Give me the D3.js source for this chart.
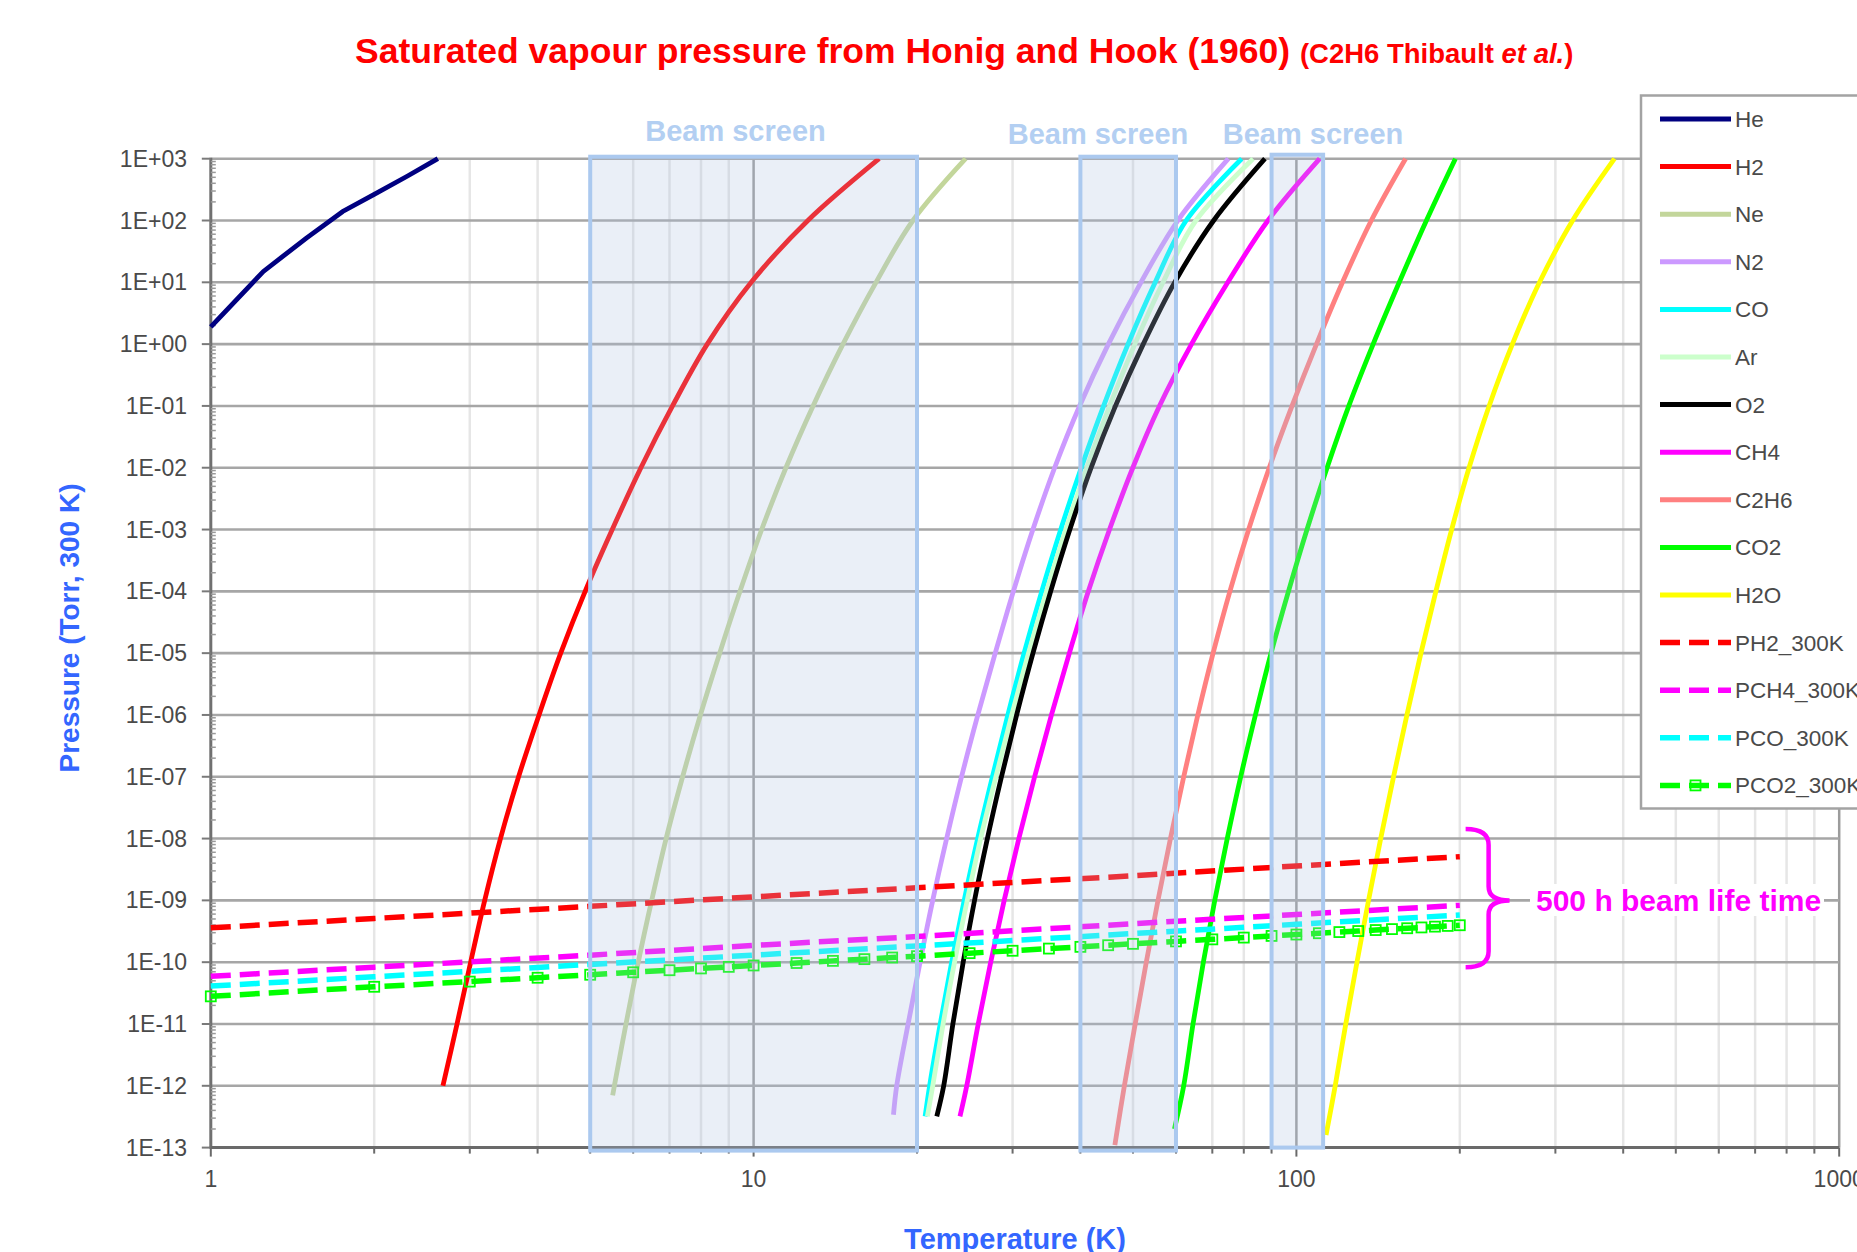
<!DOCTYPE html>
<html><head><meta charset="utf-8">
<script src="https://cdn.jsdelivr.net/npm/d3@7"></script>
<style>body{margin:0;background:#fff;} svg{display:block;font-family:"Liberation Sans",Arial,sans-serif;}</style>
</head><body>
<svg id="c" width="1857" height="1252"></svg>
<script>
// ---------------- DATA ----------------
const xTickValues = [1, 10, 100, 1000];
const xTickLabels = ["1", "10", "100", "1000"];
const yTickValues = [1e3,1e2,1e1,1e0,1e-1,1e-2,1e-3,1e-4,1e-5,1e-6,1e-7,1e-8,1e-9,1e-10,1e-11,1e-12,1e-13];
const yTickLabels = ["1E+03","1E+02","1E+01","1E+00","1E-01","1E-02","1E-03","1E-04","1E-05","1E-06","1E-07","1E-08","1E-09","1E-10","1E-11","1E-12","1E-13"];

const heT = [1, 1.25, 1.5, 1.75, 2.0, 2.3, 2.62];
const heP = [1.9, 15, 52, 140, 265, 520, 1000];

const h2T = [2.677, 2.842, 3.011, 3.196, 3.417, 3.69, 4.024, 4.412, 4.894, 5.49, 6.2, 7.09, 8.215, 9.9, 12.59, 17.03];
const h2P = [1e-12,1e-11,1e-10,1e-9,1e-8,1e-7,1e-6,1e-5,1e-4,1e-3,1e-2,1e-1,1,10,100,1000];

const neT = [5.50, 5.54, 5.82, 6.13, 6.49, 6.90, 7.40, 7.98, 8.66, 9.44, 10.35, 11.47, 12.87, 14.61, 16.81, 19.66, 24.58];
const neP = [7e-13,1e-12,1e-11,1e-10,1e-9,1e-8,1e-7,1e-6,1e-5,1e-4,1e-3,1e-2,1e-1,1,10,100,1000];

const n2T = [18.1, 18.35, 19.26, 20.26, 21.38, 22.68, 24.16, 25.89, 27.87, 30.1, 32.7, 35.86, 39.86, 45.04, 51.72, 60.47, 74.93];
const n2P = [3.4e-13,1e-12,1e-11,1e-10,1e-9,1e-8,1e-7,1e-6,1e-5,1e-4,1e-3,1e-2,1e-1,1,10,100,1000];

const coT = [20.7, 21.1, 22.07, 23.17, 24.43, 25.87, 27.54, 29.4, 31.5, 33.95, 36.8, 40.15, 44.14, 48.96, 54.94, 62.65, 79.3];
const coP = [3.2e-13,1e-12,1e-11,1e-10,1e-9,1e-8,1e-7,1e-6,1e-5,1e-4,1e-3,1e-2,1e-1,1,10,100,1000];

const arT = [20.9, 21.38, 22.34, 23.45, 24.75, 26.2, 27.95, 29.9, 32.1, 34.65, 37.6, 41.1, 45.3, 50.4, 56.8, 65.3, 83.2];
const arP = [3.2e-13,1e-12,1e-11,1e-10,1e-9,1e-8,1e-7,1e-6,1e-5,1e-4,1e-3,1e-2,1e-1,1,10,100,1000];

const o2T = [21.75, 22.4, 23.29, 24.33, 25.53, 26.96, 28.62, 30.52, 32.71, 35.26, 38.25, 41.86, 46.42, 52.22, 59.66, 70.4, 87.5];
const o2P = [3.2e-13,1e-12,1e-11,1e-10,1e-9,1e-8,1e-7,1e-6,1e-5,1e-4,1e-3,1e-2,1e-1,1,10,100,1000];

const ch4T = [24.0, 24.7, 25.93, 27.34, 28.95, 30.81, 32.94, 35.38, 38.17, 41.37, 45.26, 49.96, 55.94, 64.09, 74.76, 88.64, 110.4];
const ch4P = [3.2e-13,1e-12,1e-11,1e-10,1e-9,1e-8,1e-7,1e-6,1e-5,1e-4,1e-3,1e-2,1e-1,1,10,100,1000];

const c2h6T = [46.3, 48.2, 50.47, 52.9, 55.59, 58.61, 62.0, 65.82, 70.23, 75.42, 81.66, 89.13, 98.17, 108.9, 121.6, 137.4, 158.9];
const c2h6P = [1.1e-13,1e-12,1e-11,1e-10,1e-9,1e-8,1e-7,1e-6,1e-5,1e-4,1e-3,1e-2,1e-1,1,10,100,1000];

const co2T = [59.6, 62.0, 64.5, 67.39, 70.73, 74.58, 78.96, 84.04, 89.81, 96.69, 104.6, 113.9, 124.9, 138.5, 154.7, 173.6, 196.3];
const co2P = [2e-13,1e-12,1e-11,1e-10,1e-9,1e-8,1e-7,1e-6,1e-5,1e-4,1e-3,1e-2,1e-1,1,10,100,1000];

const h2oT = [113.4, 117.9, 123.3, 129.3, 135.8, 143.0, 151.0, 159.8, 169.6, 180.7, 193.2, 208.0, 226.5, 250.0, 280.5, 322.8, 385.5];
const h2oP = [1.6e-13,1e-12,1e-11,1e-10,1e-9,1e-8,1e-7,1e-6,1e-5,1e-4,1e-3,1e-2,1e-1,1,10,100,1000];

// 300 K equivalent pressures for 500 h beam life time
const dashT = [1, 2, 5, 10, 20, 50, 100, 200];
const ph2P  = [3.6e-10, 5.1e-10, 8.0e-10, 1.14e-9, 1.6e-9, 2.5e-9, 3.6e-9, 5.1e-9];
const pch4P = [5.9e-11, 8.3e-11, 1.3e-10, 1.87e-10, 2.6e-10, 4.2e-10, 5.9e-10, 8.3e-10];
const pcoP  = [4.1e-11, 5.8e-11, 9.2e-11, 1.3e-10, 1.83e-10, 2.9e-10, 4.1e-10, 5.8e-10];
const pco2T = [1,2,3,4,5,6,7,8,9,10,12,14,16,18,20,25,30,35,40,45,50,60,70,80,90,100,110,120,130,140,150,160,170,180,190,200];
const pco2P = [2.8e-11,4.0e-11,4.85e-11,5.6e-11,6.26e-11,6.86e-11,7.41e-11,7.92e-11,8.4e-11,8.85e-11,9.7e-11,1.05e-10,1.12e-10,1.19e-10,1.25e-10,1.4e-10,1.53e-10,1.66e-10,1.77e-10,1.88e-10,1.98e-10,2.17e-10,2.34e-10,2.5e-10,2.66e-10,2.8e-10,2.94e-10,3.07e-10,3.19e-10,3.31e-10,3.43e-10,3.54e-10,3.65e-10,3.76e-10,3.86e-10,3.96e-10];

// beam screen temperature bands
const beamLoT = [5, 40, 90];
const beamHiT = [20, 60, 112];
const beamLabelT = [9.26, 43.1, 107.3];
const beamLabel = "Beam screen";

// brace annotation (T and P extents)
const braceT = [205, 226, 247];
const braceP = [1.43e-8, 1.0e-9, 8.3e-11];
const braceLabel = "500 h beam life time";

const seriesNames = ["He","H2","Ne","N2","CO","Ar","O2","CH4","C2H6","CO2","H2O","PH2_300K","PCH4_300K","PCO_300K","PCO2_300K"];
const seriesColors = ["#000080","#ff0000","#c3d69b","#cc99ff","#00ffff","#ccffcc","#000000","#ff00ff","#ff8080","#00ff00","#ffff00","#ff0000","#ff00ff","#00ffff","#00ff00"];
const seriesT = [heT,h2T,neT,n2T,coT,arT,o2T,ch4T,c2h6T,co2T,h2oT,dashT,dashT,dashT,pco2T];
const seriesP = [heP,h2P,neP,n2P,coP,arP,o2P,ch4P,c2h6P,co2P,h2oP,ph2P,pch4P,pcoP,pco2P];

// ---------------- DRAWING ----------------
const W = 1857, H = 1252;
const x = d3.scaleLog().domain([1, 1000]).range([210.8, 1839.2]);
const y = d3.scaleLog().domain([1e-13, 1e3]).range([1147.6, 158.7]);
const svg = d3.select("#c");
svg.append("rect").attr("width", W).attr("height", H).attr("fill", "#fff");

// grid
const grid = svg.append("g");
x.ticks().forEach(t => {
  if (t === 1) return;
  const major = Math.abs(Math.log10(t) - Math.round(Math.log10(t))) < 1e-9;
  grid.append("line").attr("x1", x(t)).attr("x2", x(t))
    .attr("y1", y(1e3)).attr("y2", y(1e-13))
    .attr("stroke", major ? "#9c9c9c" : "#e6e6e6").attr("stroke-width", 2.5);
});
yTickValues.forEach(v => {
  if (v === 1e-13) return;
  grid.append("line").attr("x1", x(1)).attr("x2", x(1000))
    .attr("y1", y(v)).attr("y2", y(v))
    .attr("stroke", "#a6a6a6").attr("stroke-width", 2.6);
});

// axes
const ax = svg.append("g");
ax.append("line").attr("x1", x(1)).attr("x2", x(1)).attr("y1", y(1e3)-1).attr("y2", y(1e-13)+1)
  .attr("stroke", "#707070").attr("stroke-width", 3);
ax.append("line").attr("x1", x(1)-1).attr("x2", x(1000)).attr("y1", y(1e-13)).attr("y2", y(1e-13))
  .attr("stroke", "#6a6a6a").attr("stroke-width", 3);
yTickValues.forEach((v, i) => {
  ax.append("line").attr("x1", x(1)-9).attr("x2", x(1)).attr("y1", y(v)).attr("y2", y(v))
    .attr("stroke", "#7a7a7a").attr("stroke-width", 2);
  if (i > 0) {
    for (let m = 2; m <= 9; m++) {
      const vv = v * m;
      ax.append("line").attr("x1", x(1)).attr("x2", x(1)+5).attr("y1", y(vv)).attr("y2", y(vv))
        .attr("stroke", "#9a9a9a").attr("stroke-width", 1.5);
    }
  }
  ax.append("text").attr("x", 187).attr("y", y(v) + 8).attr("text-anchor", "end")
    .attr("font-size", 23).attr("fill", "#4a4a4a").text(yTickLabels[i]);
});
x.ticks().forEach(t => {
  const major = Math.abs(Math.log10(t) - Math.round(Math.log10(t))) < 1e-9;
  ax.append("line").attr("x1", x(t)).attr("x2", x(t)).attr("y1", y(1e-13)).attr("y2", y(1e-13) + (major ? 9 : 6))
    .attr("stroke", "#6a6a6a").attr("stroke-width", 2);
});
xTickValues.forEach((t, i) => {
  ax.append("text").attr("x", x(t)).attr("y", 1187).attr("text-anchor", "middle")
    .attr("font-size", 23).attr("fill", "#4a4a4a").text(xTickLabels[i]);
});

// series
const smooth = d3.line().x(d => x(d[0])).y(d => y(d[1])).curve(d3.curveCatmullRom.alpha(0.5));
const straight = d3.line().x(d => x(d[0])).y(d => y(d[1]));
const gS = svg.append("g");
seriesNames.forEach((name, i) => {
  const pts = seriesT[i].map((t, k) => [t, seriesP[i][k]]);
  const dashed = i >= 11;
  const gen = (name === "He" || dashed) ? straight : smooth;
  gS.append("path").attr("d", gen(pts)).attr("fill", "none")
    .attr("stroke", seriesColors[i]).attr("stroke-width", dashed ? 5.5 : 4.8)
    .attr("stroke-dasharray", dashed ? "20,9" : null);
  if (name === "PCO2_300K") {
    pts.forEach(p => {
      gS.append("rect").attr("x", x(p[0]) - 5).attr("y", y(p[1]) - 5)
        .attr("width", 10).attr("height", 10).attr("fill", "none")
        .attr("stroke", seriesColors[i]).attr("stroke-width", 1.8);
    });
  }
});

// beam screen bands (semi-transparent, on top of the curves)
const gB = svg.append("g");
beamLoT.forEach((lo, i) => {
  gB.append("rect").attr("x", x(lo)).attr("y", y(1e3) - (i === 2 ? 4 : 2))
    .attr("width", x(beamHiT[i]) - x(lo)).attr("height", y(1e-13) - y(1e3) + (i === 2 ? 4 : 5))
    .attr("fill", "rgb(173,192,223)").attr("fill-opacity", 0.26)
    .attr("stroke", "#abc9ef").attr("stroke-width", 4);
  gB.append("text").attr("x", x(beamLabelT[i])).attr("y", i === 0 ? 141 : 144)
    .attr("text-anchor", "middle").attr("font-size", 29).attr("font-weight", "bold")
    .attr("fill", "#b3cff2").text(beamLabel);
});

// brace annotation
const bx = braceT.map(x), by = braceP.map(y);
svg.append("path").attr("fill", "none").attr("stroke", "#ff00ff").attr("stroke-width", 4.5)
  .attr("d", `M${bx[0]},${by[0]} Q${bx[1]},${by[0]} ${bx[1]},${by[0]+16} L${bx[1]},${by[1]-14} Q${bx[1]},${by[1]} ${bx[2]},${by[1]} Q${bx[1]},${by[1]} ${bx[1]},${by[1]+14} L${bx[1]},${by[2]-16} Q${bx[1]},${by[2]} ${bx[0]},${by[2]}`);
svg.append("rect").attr("x", 1530).attr("y", 884).attr("width", 294).attr("height", 32).attr("fill", "#fff");
svg.append("text").attr("x", 1536).attr("y", 911).attr("font-size", 30).attr("font-weight", "bold")
  .attr("fill", "#ff00ff").text(braceLabel);

// legend
const lg = svg.append("g");
lg.append("rect").attr("x", 1641).attr("y", 95.5).attr("width", 260).attr("height", 713)
  .attr("fill", "#fff").attr("stroke", "#a3a3a3").attr("stroke-width", 2.5);
seriesNames.forEach((name, i) => {
  const ly = 119 + i * 47.6;
  const dashed = i >= 11;
  lg.append("line").attr("x1", 1660).attr("x2", 1731).attr("y1", ly).attr("y2", ly)
    .attr("stroke", seriesColors[i]).attr("stroke-width", dashed ? 5.5 : 5)
    .attr("stroke-dasharray", dashed ? "20,9" : null);
  if (name === "PCO2_300K") {
    lg.append("rect").attr("x", 1695.5 - 5).attr("y", ly - 5).attr("width", 10).attr("height", 10)
      .attr("fill", "none").attr("stroke", seriesColors[i]).attr("stroke-width", 1.8);
  }
  lg.append("text").attr("x", 1735).attr("y", ly + 8).attr("font-size", 22.5).attr("fill", "#4a4a4a").text(name);
});

// titles
const title = svg.append("text").attr("x", 355).attr("y", 63).attr("font-weight", "bold").attr("fill", "#ff0000");
title.append("tspan").attr("font-size", 35.5).text("Saturated vapour pressure from Honig and Hook (1960) ");
title.append("tspan").attr("font-size", 27.5).text("(C2H6 Thibault ");
title.append("tspan").attr("font-size", 27.5).attr("font-style", "italic").text("et al.");
title.append("tspan").attr("font-size", 27.5).text(")");

svg.append("text").attr("x", 1015).attr("y", 1249).attr("text-anchor", "middle")
  .attr("font-size", 29).attr("font-weight", "bold").attr("fill", "#3366ff").text("Temperature (K)");
svg.append("text").attr("transform", "translate(79,628) rotate(-90)").attr("text-anchor", "middle")
  .attr("font-size", 28).attr("font-weight", "bold").attr("fill", "#3366ff").text("Pressure (Torr, 300 K)");
</script>
</body></html>
